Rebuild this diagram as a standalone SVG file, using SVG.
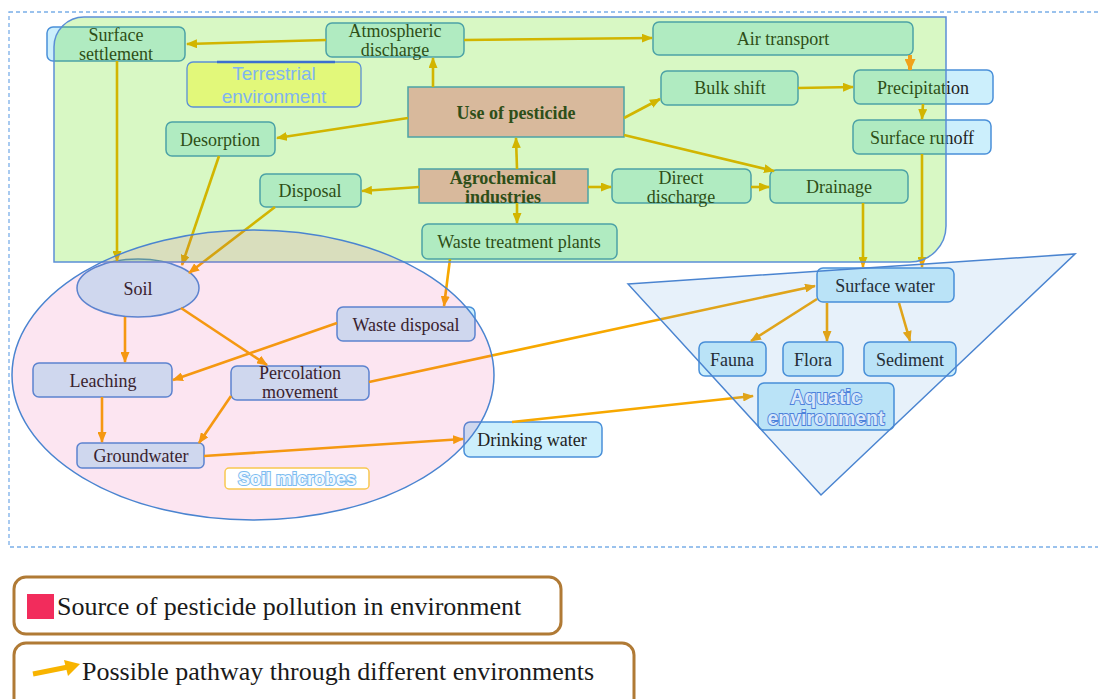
<svg xmlns="http://www.w3.org/2000/svg" width="1098" height="699" viewBox="0 0 1098 699">
  <defs>
    <marker id="ah" markerUnits="userSpaceOnUse" markerWidth="11" markerHeight="9" refX="10" refY="4.5" orient="auto">
      <path d="M0,0 L11,4.5 L0,9 Z" fill="#f7a800"/>
    </marker>
    <marker id="ahBig" markerUnits="userSpaceOnUse" markerWidth="12" markerHeight="11" refX="11" refY="5.5" orient="auto">
      <path d="M0,0 L12,5.5 L0,11 Z" fill="#f0a21a"/>
    </marker>
    <style>
      .box { fill: #ccefFC; stroke: #4a90d9; stroke-width: 1.5; }
      .src { fill: #ffadcb; stroke: #4a90d9; stroke-width: 1.5; }
      .lbl { font-family: "Liberation Serif", "Times New Roman", serif; font-size: 18px; fill: #222; text-anchor: middle; }
      .bold { font-weight: bold; }
      .c line { stroke: #f7a800; stroke-width: 2.6; marker-end: url(#ah); }
      .legend { fill: #fff; stroke: #b07a35; stroke-width: 3; }
      .legtxt { font-family: "Liberation Serif", "Times New Roman", serif; font-size: 26px; fill: #1a1a1a; }
    </style>
  </defs>

  <rect width="1098" height="699" fill="#fff"/>

  <!-- outer dashed frame -->
  <rect x="9" y="12" width="1100" height="535" fill="none" stroke="#7aaee8" stroke-width="1.3" stroke-dasharray="4 3"/>

  <!-- nodes -->
  <g id="surface-settlement"><rect class="box" x="47" y="27" width="138" height="34" rx="6"/><text class="lbl" x="116" y="41">Surface</text><text class="lbl" x="116" y="60">settlement</text></g>
  <g id="atmospheric-discharge"><rect class="box" x="326" y="23" width="138" height="34" rx="6"/><text class="lbl" x="395" y="37">Atmospheric</text><text class="lbl" x="395" y="56">discharge</text></g>
  <g id="air-transport"><rect class="box" x="653" y="22" width="260" height="33" rx="6"/><text class="lbl" x="783" y="45">Air transport</text></g>
  <g id="desorption"><rect class="box" x="166" y="122" width="109" height="34" rx="6"/><text class="lbl" x="220" y="146">Desorption</text></g>
  <g id="use-of-pesticide"><rect class="src" x="408" y="87" width="216" height="50"/><text class="lbl bold" x="516" y="119">Use of pesticide</text></g>
  <g id="bulk-shift"><rect class="box" x="661" y="71" width="137" height="34" rx="6"/><text class="lbl" x="730" y="94">Bulk shift</text></g>
  <g id="precipitation"><rect class="box" x="854" y="70" width="139" height="34" rx="6"/><text class="lbl" x="923" y="94">Precipitation</text></g>
  <g id="surface-runoff"><rect class="box" x="853" y="120" width="138" height="34" rx="6"/><text class="lbl" x="922" y="144">Surface runoff</text></g>
  <g id="disposal"><rect class="box" x="260" y="174" width="101" height="33" rx="6"/><text class="lbl" x="310" y="197">Disposal</text></g>
  <g id="agrochemical-industries"><rect class="src" x="419" y="169" width="169" height="34"/><text class="lbl bold" x="503" y="184">Agrochemical</text><text class="lbl bold" x="503" y="203">industries</text></g>
  <g id="direct-discharge"><rect class="box" x="612" y="169" width="139" height="34" rx="6"/><text class="lbl" x="681" y="184">Direct</text><text class="lbl" x="681" y="203">discharge</text></g>
  <g id="drainage"><rect class="box" x="770" y="170" width="138" height="33" rx="6"/><text class="lbl" x="839" y="193">Drainage</text></g>
  <g id="waste-treatment-plants"><rect class="box" x="422" y="224" width="195" height="35" rx="6"/><text class="lbl" x="519" y="248">Waste treatment plants</text></g>
  <g id="soil"><ellipse class="box" cx="138" cy="288" rx="61" ry="29"/><text class="lbl" x="138" y="295">Soil</text></g>
  <g id="waste-disposal"><rect class="box" x="337" y="307" width="138" height="34" rx="6"/><text class="lbl" x="406" y="331">Waste disposal</text></g>
  <g id="leaching"><rect class="box" x="33" y="363" width="139" height="34" rx="6"/><text class="lbl" x="103" y="387">Leaching</text></g>
  <g id="percolation-movement"><rect class="box" x="231" y="366" width="138" height="34" rx="6"/><text class="lbl" x="300" y="379">Percolation</text><text class="lbl" x="300" y="398">movement</text></g>
  <g id="groundwater"><rect class="box" x="77" y="443" width="127" height="25" rx="5"/><text class="lbl" x="141" y="462">Groundwater</text></g>
  <g id="drinking-water"><rect class="box" x="464" y="422" width="138" height="35" rx="6"/><text class="lbl" x="532" y="446">Drinking water</text></g>
  <g id="surface-water"><rect class="box" x="817" y="268" width="137" height="34" rx="6"/><text class="lbl" x="885" y="292">Surface water</text></g>
  <g id="fauna"><rect class="box" x="699" y="342" width="67" height="34" rx="6"/><text class="lbl" x="732" y="366">Fauna</text></g>
  <g id="flora"><rect class="box" x="783" y="342" width="60" height="34" rx="6"/><text class="lbl" x="813" y="366">Flora</text></g>
  <g id="sediment"><rect class="box" x="864" y="342" width="92" height="34" rx="6"/><text class="lbl" x="910" y="366">Sediment</text></g>
  <g id="aquatic-environment"><rect class="box" x="758" y="383" width="136" height="47" rx="6"/>
    <g font-family="'Liberation Sans', Arial, sans-serif" font-size="19.5" font-weight="bold" fill="#eef5ff" stroke="#5080dc" stroke-width="1.8" text-anchor="middle" paint-order="stroke">
      <text x="826" y="404">Aquatic</text><text x="826" y="425">environment</text>
    </g>
  </g>

  <!-- connectors -->
  <g id="connectors" class="c">
    <line x1="326" y1="40" x2="187" y2="44"/>
    <line x1="464" y1="40" x2="652" y2="38"/>
    <line x1="433" y1="87" x2="433" y2="58"/>
    <line x1="408" y1="118" x2="277" y2="138"/>
    <line x1="624" y1="118" x2="660" y2="99"/>
    <line x1="624" y1="135" x2="774" y2="171"/>
    <line x1="517" y1="169" x2="516" y2="138"/>
    <line x1="419" y1="187" x2="362" y2="191"/>
    <line x1="588" y1="187" x2="611" y2="187"/>
    <line x1="517" y1="203" x2="517" y2="223"/>
    <line x1="751" y1="187" x2="769" y2="187"/>
    <line x1="798" y1="88" x2="853" y2="87"/>
    <line x1="923" y1="104" x2="922" y2="119"/>
    <line x1="922" y1="154" x2="922" y2="267"/>
    <line x1="863" y1="203" x2="863" y2="267"/>
    <line x1="117" y1="61" x2="117" y2="261"/>
    <line x1="219" y1="156" x2="182" y2="265"/>
    <line x1="275" y1="207" x2="189" y2="273"/>
    <line x1="450" y1="259" x2="444" y2="306"/>
    <line x1="125" y1="317" x2="125" y2="362"/>
    <line x1="181" y1="308" x2="267" y2="365"/>
    <line x1="337" y1="323" x2="173" y2="380"/>
    <line x1="102" y1="397" x2="102" y2="442"/>
    <line x1="231" y1="396" x2="199" y2="443"/>
    <line x1="204" y1="456" x2="463" y2="439"/>
    <line x1="369" y1="382" x2="815" y2="286"/>
    <line x1="512" y1="422" x2="753" y2="396"/>
    <line x1="817" y1="299" x2="751" y2="341"/>
    <line x1="827" y1="303" x2="827" y2="341"/>
    <line x1="899" y1="303" x2="910" y2="341"/>
  </g>

  <!-- environment regions -->
  <g id="terrestrial-region">
    <path d="M84 17 H946 V226 A36 36 0 0 1 910 262 H54 V47 A30 30 0 0 1 84 17 Z" fill="rgb(85,224,0)" fill-opacity="0.23" stroke="#5b8fd6" stroke-width="1.5"/>
  </g>
  <g id="soil-region">
    <ellipse cx="253" cy="375" rx="241" ry="145" fill="rgb(230,40,140)" fill-opacity="0.12" stroke="#4a84d0" stroke-width="1.5"/>
  </g>
  <g id="aquatic-region">
    <polygon points="628,284 1075,254 821,495" fill="rgb(60,140,210)" fill-opacity="0.12" stroke="#4a84d0" stroke-width="1.5"/>
  </g>

  <!-- air transport feeds precipitation -->
  <g id="connector-air-precip">
    <line x1="910" y1="55" x2="910" y2="70" stroke="#f0a21a" stroke-width="4" marker-end="url(#ahBig)"/>
  </g>

  <!-- region captions -->
  <g id="terrestrial-label">
    <rect x="187" y="62" width="174" height="45" rx="6" fill="#e2f87a" stroke="#5b8fd6" stroke-width="1.3"/>
    <line x1="217" y1="62" x2="335" y2="62" stroke="#3d6fd0" stroke-width="2.5"/>
    <g font-family="'Liberation Sans', Arial, sans-serif" font-size="19" fill="#80b4f0" text-anchor="middle">
      <text x="274" y="80">Terrestrial</text><text x="274" y="103">environment</text>
    </g>
  </g>
  <g id="soil-microbes-label">
    <rect x="225" y="468" width="144" height="21" rx="4" fill="#fff" stroke="#f8c850" stroke-width="1.5"/>
    <text x="297" y="485" font-family="'Liberation Sans', Arial, sans-serif" font-size="18" font-weight="bold" fill="#f2f9ff" stroke="#7cbcf0" stroke-width="2" paint-order="stroke" text-anchor="middle">Soil microbes</text>
  </g>

  <!-- legend -->
  <g id="legend-source">
    <rect class="legend" x="14" y="577" width="547" height="57" rx="12"/>
    <rect x="27" y="594" width="27" height="25" fill="#f22c5c"/>
    <text class="legtxt" x="57" y="615">Source of pesticide pollution in environment</text>
  </g>
  <g id="legend-pathway">
    <rect class="legend" x="14" y="643" width="620" height="75" rx="12"/>
    <line x1="33" y1="674" x2="68" y2="667" stroke="#f8b400" stroke-width="5"/>
    <path d="M64,660 L80,664 L68,676 Z" fill="#f8b400"/>
    <text class="legtxt" x="82" y="680">Possible pathway through different environments</text>
  </g>
</svg>
